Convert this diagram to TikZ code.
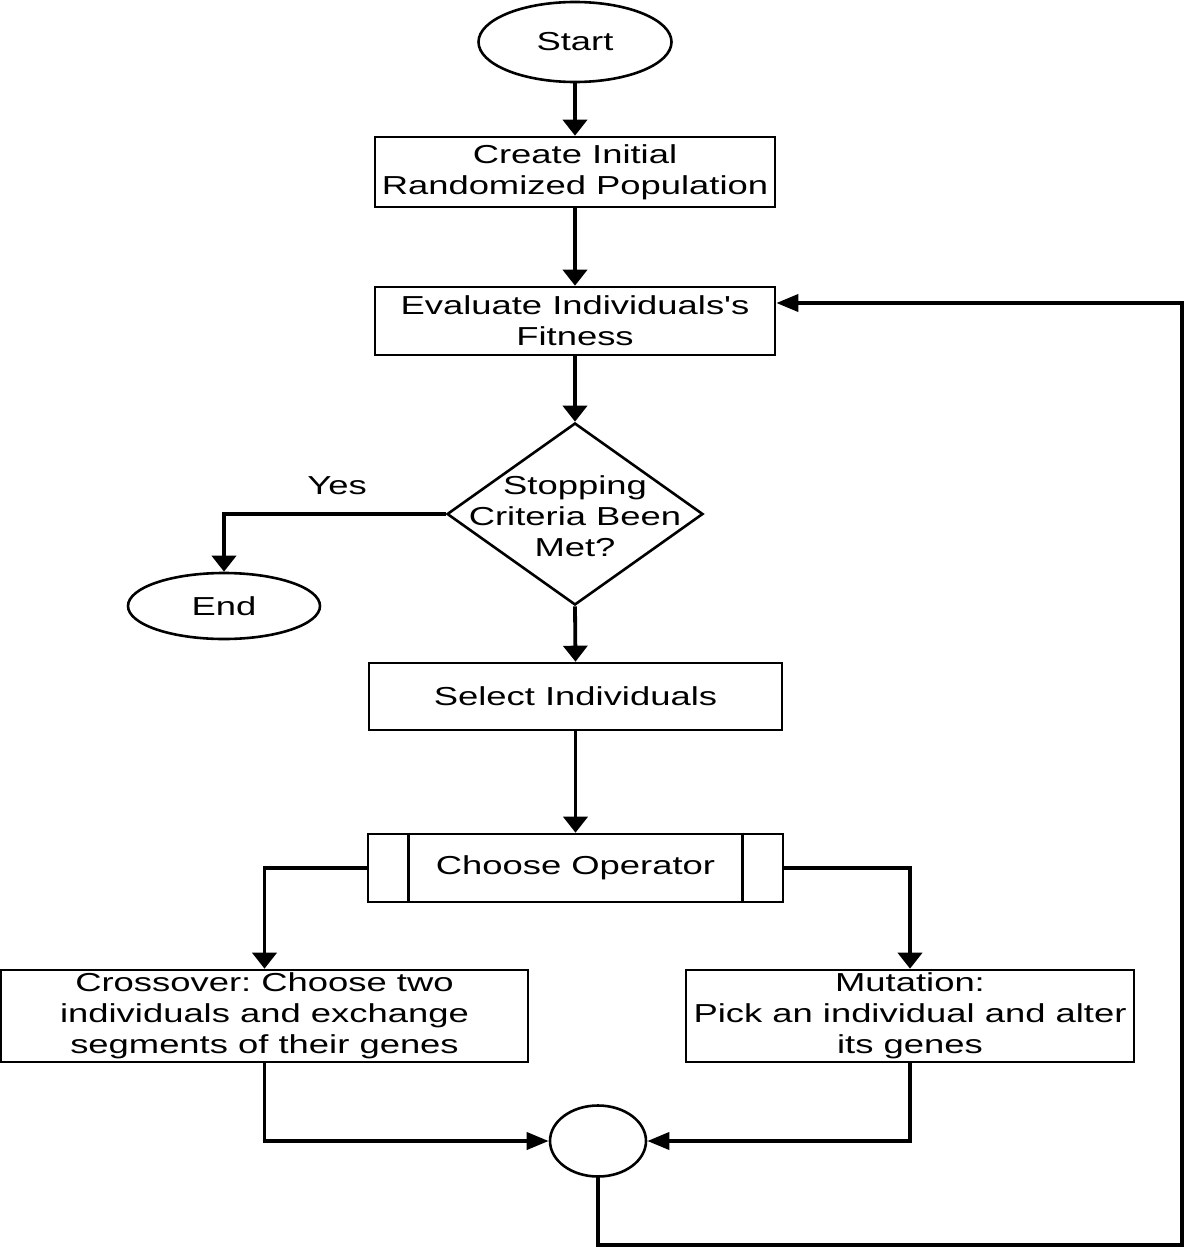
\documentclass[tikz,border=0pt]{standalone}
\usepackage{fontspec}
\setmainfont{Liberation Sans}[FakeStretch=1.4, Ligatures=TeXOff]
\usetikzlibrary{arrows.meta,shapes.geometric}
\frenchspacing
\begin{document}
\begin{tikzpicture}[x=1pt,y=-1pt,
  every node/.style={font=\fontsize{26pt}{31pt}\selectfont, align=center, inner sep=0pt},
  box/.style={draw, line width=2.6pt, rectangle},
  term/.style={draw, line width=2.6pt, ellipse},
  conn/.style={line width=3.8pt},
  varr/.style={conn, -{Triangle[length=16pt,width=24pt]}},
  harr/.style={conn, -{Triangle[length=22pt,width=17pt]}}
]
\useasboundingbox (0,0) rectangle (1184,1247);
\node[term, minimum width=193pt, minimum height=80pt] (start) at (575,42) {Start};
\node[box, minimum width=400pt, minimum height=70pt] (init) at (575,172) {Create Initial\\Randomized Population};
\node[box, minimum width=400pt, minimum height=68pt] (ev) at (575,321) {Evaluate Individuals's\\Fitness};
\node[diamond, draw, line width=2.6pt, minimum width=256pt, minimum height=182pt] (dec) at (575,514) {};
\node (dect) at (575,516) {Stopping\\Criteria Been\\Met?};
\node (yes) at (337,486) {Yes};
\node[term, minimum width=192pt, minimum height=66pt] (end) at (224,606) {End};
\node[box, minimum width=413pt, minimum height=67pt] (sel) at (575.5,696.5) {Select Individuals};
\node[box, minimum width=415pt, minimum height=68pt] (op) at (575.5,868) {Choose Operator};
\draw[line width=2.6pt] ([xshift=42pt]op.north west) -- ([xshift=42pt]op.south west);
\draw[line width=2.6pt] ([xshift=-42pt]op.north east) -- ([xshift=-42pt]op.south east);
\node[box, minimum width=527pt, minimum height=92pt] (cross) at (264.5,1016) {Crossover: Choose two\\individuals and exchange\\segments of their genes};
\node[box, minimum width=448pt, minimum height=92pt] (mut) at (910,1016) {Mutation:\\Pick an individual and alter\\its genes};
\node[term, minimum width=96pt, minimum height=71pt] (junc) at (598,1141) {};
\coordinate (lb) at (1182,1245);
\coordinate (ret) at (1182,303);

\draw[varr] (start) -- (init);
\draw[varr] (init) -- (ev);
\draw[varr] (ev) -- (dec.north);
\draw[varr] (dec.west) -| (end.north);
\draw[varr] (dec.south) -- (sel.north);
\draw[varr] (sel) -- (op);
\draw[varr] (op.west) -| (cross.north);
\draw[varr] (op.east) -| (mut.north);
\draw[harr] (cross.south) |- (junc.west);
\draw[harr] (mut.south) |- (junc.east);
\draw[harr] (junc.south) |- (lb) -- (ret) -- (ev.east |- ret);
\end{tikzpicture}
\end{document}
